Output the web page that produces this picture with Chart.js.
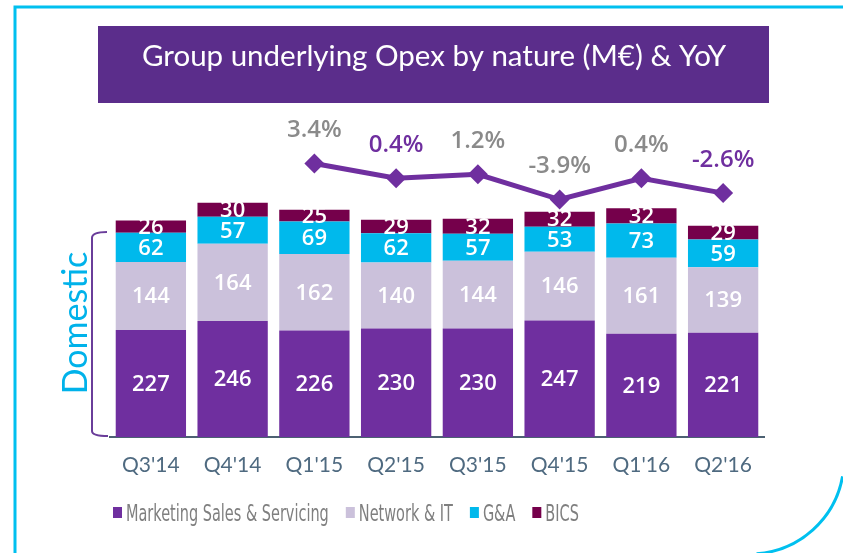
<!DOCTYPE html>
<html>
<head>
<meta charset="utf-8">
<script src="https://cdn.jsdelivr.net/npm/chart.js@4"></script>
<style>
  body { margin: 0; background: #fff; }
  #wrap { width: 843px; height: 553px; position: relative; }
</style>
</head>
<body>
<div id="wrap"><canvas id="graficaOpex"></canvas></div>
<script>
const quarters = ["Q3'14", "Q4'14", "Q1'15", "Q2'15", "Q3'15", "Q4'15", "Q1'16", "Q2'16"];
const marketing = [227, 246, 226, 230, 230, 247, 219, 221];
const network = [144, 164, 162, 140, 144, 146, 161, 139];
const gna = [62, 57, 69, 62, 57, 53, 73, 59];
const bics = [26, 30, 25, 29, 32, 32, 32, 29];
const yoy = [null, null, 3.4, 0.4, 1.2, -3.9, 0.4, -2.6];
const yoyLabels = [null, null, '3.4%', '0.4%', '1.2%', '-3.9%', '0.4%', '-2.6%'];

const PURPLE = '#6f2f9f';
const GREY = '#8a8a8a';
const yoyColors = [null, null, GREY, PURPLE, GREY, GREY, GREY, PURPLE];

// frame, title box, Domestic bracket, value labels, legend
const decoraciones = {
  id: 'decoraciones',
  beforeDraw(chart) {
    const c = chart.ctx;
    c.save();
    c.strokeStyle = '#00c0ef';
    c.lineWidth = 3;
    c.beginPath();
    c.moveTo(15, 553);
    c.lineTo(15, 7);
    c.lineTo(843, 7);
    c.stroke();
    c.beginPath();
    c.arc(750, 460, 94, 10 * Math.PI / 180, 86 * Math.PI / 180);
    c.stroke();

    c.fillStyle = '#5b2d8b';
    c.fillRect(98, 26, 671, 77);
    c.fillStyle = '#fff';
    c.font = '29.5px Lato';
    c.textAlign = 'center';
    c.textBaseline = 'alphabetic';
    c.fillText('Group underlying Opex by nature (M\u20ac) & YoY', 434, 66);

    c.translate(74, 323);
    c.rotate(-Math.PI / 2);
    c.fillStyle = '#00b2ea';
    c.font = '34px Lato';
    c.textBaseline = 'middle';
    c.fillText('Domestic', 0, 2);
    c.restore();

    c.save();
    c.strokeStyle = '#6a3d9a';
    c.lineWidth = 2;
    c.beginPath();
    c.moveTo(107, 232);
    c.quadraticCurveTo(92, 232, 92, 238);
    c.lineTo(92, 431);
    c.quadraticCurveTo(92, 436, 108, 436);
    c.stroke();
    c.restore();
  },
  afterDatasetsDraw(chart) {
    const c = chart.ctx;
    c.save();
    c.textAlign = 'center';
    c.textBaseline = 'middle';
    c.font = '600 22px "Open Sans"';
    c.fillStyle = '#fff';
    for (let i = 0; i < 4; i++) {
      const ds = chart.data.datasets[i];
      chart.getDatasetMeta(i).data.forEach((bar, j) => {
        c.fillText(ds.data[j], bar.x, (bar.y + bar.base) / 2 + 1);
      });
    }
    c.font = '600 24px "Open Sans"';
    chart.getDatasetMeta(4).data.forEach((pt, j) => {
      if (yoy[j] === null) return;
      c.fillStyle = yoyColors[j];
      c.fillText(yoyLabels[j], pt.x, pt.y - 33);
    });

    // legend (narrow type, squeezed sideways)
    const sx = 0.7;
    c.font = '23px "DejaVu Sans Condensed", sans-serif';
    c.textAlign = 'left';
    let x = 113;
    for (let i = 0; i < 4; i++) {
      const ds = chart.data.datasets[i];
      c.fillStyle = ds.backgroundColor;
      c.fillRect(x, 507, 9, 11);
      c.fillStyle = '#7f7f7f';
      c.save();
      c.translate(x + 13, 515);
      c.scale(sx, 1);
      c.fillText(ds.label, 0, 0);
      c.restore();
      x += 13 + c.measureText(ds.label).width * sx + 17;
    }
    c.restore();
  }
};

new Chart(document.getElementById('graficaOpex'), {
  type: 'bar',
  data: {
    labels: quarters,
    datasets: [
      { label: 'Marketing Sales & Servicing', data: marketing, backgroundColor: '#6f2f9f', yAxisID: 'y', order: 1 },
      { label: 'Network & IT', data: network, backgroundColor: '#cbc1db', yAxisID: 'y', order: 1 },
      { label: 'G&A', data: gna, backgroundColor: '#00b9ec', yAxisID: 'y', order: 1 },
      { label: 'BICS', data: bics, backgroundColor: '#75004b', yAxisID: 'y', order: 1 },
      {
        type: 'line', label: 'YoY', data: yoy, yAxisID: 'y1', order: 0,
        borderColor: PURPLE, borderWidth: 5, backgroundColor: PURPLE,
        pointStyle: 'rectRot', pointRadius: 10, pointBorderWidth: 0
      }
    ]
  },
  options: {
    animation: false,
    responsive: true,
    maintainAspectRatio: false,
    layout: { padding: { left: 110, right: 79, top: 107, bottom: 76 } },
    datasets: { bar: { categoryPercentage: 0.86, barPercentage: 1 } },
    plugins: {
      legend: { display: false },
      tooltip: { enabled: false }
    },
    scales: {
      x: {
        stacked: true,
        grid: { display: false, drawTicks: false },
        border: { color: '#4c6172', width: 2 },
        ticks: { color: '#4f6a80', font: { family: 'Lato', size: 21 }, padding: 16 },
        afterFit: (s) => { s.height = 40; }
      },
      y: { stacked: true, display: false, min: 0, max: 700 },
      y1: { display: false, min: -52, max: 14.84 }
    }
  },
  plugins: [decoraciones]
});
</script>
</body>
</html>
